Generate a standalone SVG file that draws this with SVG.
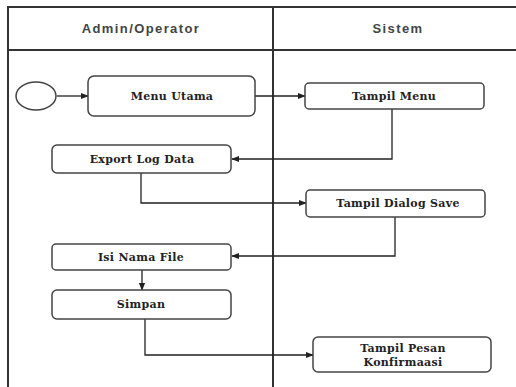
<svg xmlns="http://www.w3.org/2000/svg" width="516" height="387" viewBox="0 0 516 387">
  <style>
    .lane { fill: none; stroke: #333; stroke-width: 2; }
    .head { font-family: "Liberation Sans", Arial, sans-serif; font-size: 13px; font-weight: bold; letter-spacing: 1.4px; fill: #444; text-anchor: middle; }
    .box { fill: #fff; stroke: #444; stroke-width: 1.5; }
    .lbl { font-family: "DejaVu Serif", serif; font-size: 11px; font-weight: bold; letter-spacing: 0.3px; fill: #222; text-anchor: middle; }
    .flow { fill: none; stroke: #222; stroke-width: 1.3; marker-end: url(#arrow); }
  </style>
  <defs>
    <marker id="arrow" viewBox="0 0 10 10" refX="9" refY="5" markerWidth="8" markerHeight="8" markerUnits="userSpaceOnUse" orient="auto">
      <path d="M0,1 L10,5 L0,9 z" fill="#222"/>
    </marker>
  </defs>

  <rect width="516" height="387" fill="#fff"/>

  <!-- swimlanes -->
  <g id="lanes">
    <path class="lane" d="M8,387 V7 H516"/>
    <path class="lane" d="M8,50 H516" stroke="#555"/>
    <path class="lane" d="M273,7 V387"/>
    <text class="head" x="141" y="33">Admin/Operator</text>
    <text class="head" x="398" y="33">Sistem</text>
  </g>

  <!-- connectors -->
  <g id="connectors">
    <path class="flow" d="M57,96 H88"/>
    <path class="flow" d="M255,96 H305"/>
    <path class="flow" d="M392,109 V159 H232"/>
    <path class="flow" d="M141,173 V203 H306"/>
    <path class="flow" d="M395,217 V256 H232"/>
    <path class="flow" d="M142,270 V290"/>
    <path class="flow" d="M145,319 V355 H313"/>
  </g>

  <g id="start">
    <ellipse cx="36" cy="96" rx="20" ry="14" fill="#fff" stroke="#444" stroke-width="1.5"/>
  </g>

  <g id="menu-utama">
    <rect class="box" x="88" y="76" width="167" height="40" rx="6"/>
    <text class="lbl" x="172" y="100">Menu  Utama</text>
  </g>

  <g id="tampil-menu">
    <rect class="box" x="305" y="83" width="179" height="26" rx="4"/>
    <text class="lbl" x="394" y="100">Tampil Menu</text>
  </g>

  <g id="export-log-data">
    <rect class="box" x="52" y="145" width="179" height="28" rx="5"/>
    <text class="lbl" x="142" y="163">Export Log Data</text>
  </g>

  <g id="tampil-dialog-save">
    <rect class="box" x="306" y="190" width="179" height="27" rx="4"/>
    <text class="lbl" x="398" y="207">Tampil Dialog Save</text>
  </g>

  <g id="isi-nama-file">
    <rect class="box" x="52" y="244" width="179" height="26" rx="4"/>
    <text class="lbl" x="141" y="261">Isi Nama File</text>
  </g>

  <g id="simpan">
    <rect class="box" x="52" y="290" width="179" height="29" rx="5"/>
    <text class="lbl" x="141" y="308">Simpan</text>
  </g>

  <g id="tampil-pesan-konfirmasi">
    <rect class="box" x="313" y="337" width="178" height="35" rx="5"/>
    <text class="lbl" x="403" y="352">Tampil Pesan</text>
    <text class="lbl" x="403" y="366">Konfirmaasi</text>
  </g>
</svg>
